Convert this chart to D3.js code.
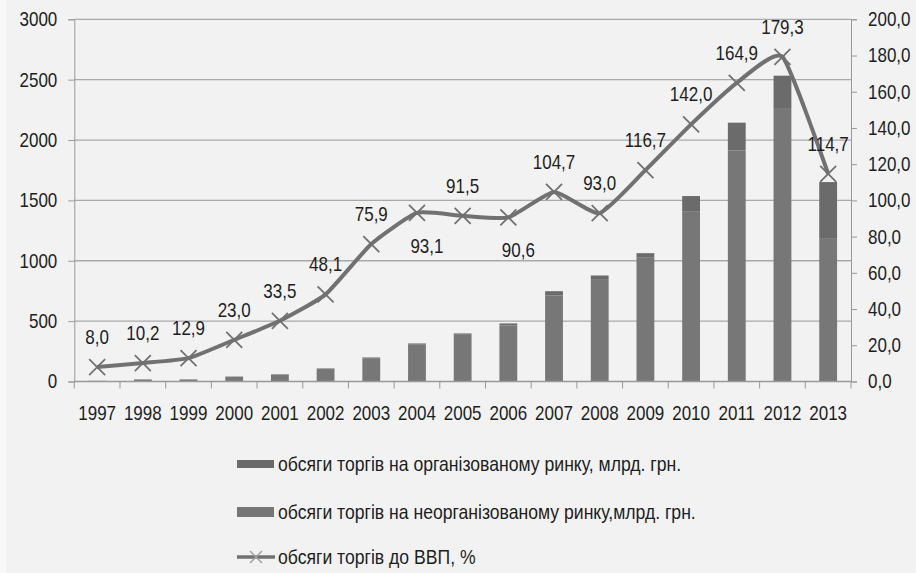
<!DOCTYPE html>
<html>
<head>
<meta charset="utf-8">
<script src="https://d3js.org/d3.v7.min.js"></script>
<style>
  html, body { margin: 0; padding: 0; background: #f2f2f2; }
  svg { display: block; }
  text { font-family: "Liberation Sans", Arial, sans-serif; fill: #1e1e1e; }
</style>
</head>
<body>
<svg id="chart" width="916" height="573"></svg>
<script>
const years = ['1997', '1998', '1999', '2000', '2001', '2002', '2003', '2004', '2005',
  '2006', '2007', '2008', '2009', '2010', '2011', '2012', '2013'];
// bar totals, split into organized (top) and unorganized (bottom)
const organized = [1, 2, 2, 3, 4, 5, 6, 6, 11, 17, 36, 36, 38, 125, 230, 268, 464];
const unorganized = [5, 16, 16, 38, 56, 103, 193, 309, 387, 464, 712, 842, 1025, 1411, 1914, 2265, 1188];
const gdpShare = [8.0, 10.2, 12.9, 23.0, 33.5, 48.1, 75.9, 93.1, 91.5, 90.6, 104.7, 93.0,
  116.7, 142.0, 164.9, 179.3, 114.7];
const leftTicks = [0, 500, 1000, 1500, 2000, 2500, 3000];
const rightTicks = [0, 20, 40, 60, 80, 100, 120, 140, 160, 180, 200];
const legendLabels = [
  'обсяги торгів на організованому ринку, млрд. грн.',
  'обсяги торгів на неорганізованому ринку,млрд. грн.',
  'обсяги торгів до ВВП, %'
];

const colors = { org: '#6b6b6b', unorg: '#777777', line: '#717171', grid: '#a9a9a9', axis: '#999999' };
const belowLabels = new Set([7, 9]);
const fmt = v => v.toFixed(1).replace('.', ',');
const FONT = 20;

// the original face is a narrow one, so squeeze regular glyphs about their anchor
function squeeze(sel, k = 0.85) {
  sel.each(function () {
    const ax = +(this.getAttribute('x') || 0);
    d3.select(this).attr('transform', `matrix(${k},0,0,1,${ax * (1 - k)},0)`);
  });
}

const svg = d3.select('#chart');
svg.append('rect').attr('width', 916).attr('height', 573).attr('fill', '#f2f2f2');
svg.append('rect').attr('width', 6).attr('height', 573).attr('fill', '#f7f7f7');

const plot = { left: 74.3, right: 851, top: 19.3, bottom: 381.5 };

const x = d3.scaleBand()
  .domain(years)
  .range([plot.left, plot.right])
  .paddingInner(0.61)
  .paddingOuter(0.305);
const yL = d3.scaleLinear().domain([0, 3000]).range([plot.bottom, plot.top]);
const yR = d3.scaleLinear().domain([0, 200]).range([plot.bottom, plot.top]);
const step = x.step();

// gridlines
svg.append('g')
  .selectAll('line')
  .data(leftTicks.slice(1))
  .join('line')
  .attr('x1', plot.left).attr('x2', plot.right)
  .attr('y1', d => yL(d)).attr('y2', d => yL(d))
  .attr('stroke', colors.grid).attr('stroke-width', 1.3);

// left axis
const leftAxis = svg.append('g')
  .attr('transform', `translate(${plot.left},0)`)
  .call(d3.axisLeft(yL).tickValues(leftTicks).tickSize(6).tickPadding(11).tickFormat(d3.format('d')));
leftAxis.select('.domain').attr('stroke', colors.axis);
leftAxis.selectAll('.tick line').attr('stroke', colors.axis);
leftAxis.selectAll('text').attr('font-size', FONT).attr('fill', '#1e1e1e').call(squeeze);

// right axis
const rightAxis = svg.append('g')
  .attr('transform', `translate(${plot.right},0)`)
  .call(d3.axisRight(yR).tickValues(rightTicks).tickSize(6).tickPadding(11).tickFormat(fmt));
rightAxis.select('.domain').attr('stroke', colors.axis);
rightAxis.selectAll('.tick line').attr('stroke', colors.axis);
rightAxis.selectAll('text').attr('font-size', FONT).attr('fill', '#1e1e1e').call(squeeze);

// stacked bars
const stackData = years.map((yr, i) => ({ year: yr, unorg: unorganized[i], org: organized[i] }));
const stacked = d3.stack().keys(['unorg', 'org'])(stackData);
svg.append('g')
  .selectAll('g')
  .data(stacked)
  .join('g')
  .attr('fill', d => colors[d.key])
  .selectAll('rect')
  .data(d => d)
  .join('rect')
  .attr('x', d => x(d.data.year))
  .attr('width', x.bandwidth())
  .attr('y', d => yL(d[1]))
  .attr('height', d => yL(d[0]) - yL(d[1]));

// x axis with ticks between categories
svg.append('line')
  .attr('x1', plot.left).attr('x2', plot.right)
  .attr('y1', plot.bottom).attr('y2', plot.bottom)
  .attr('stroke', colors.axis).attr('stroke-width', 1.3);
svg.append('g')
  .selectAll('line')
  .data(d3.range(years.length + 1))
  .join('line')
  .attr('x1', i => plot.left + i * step).attr('x2', i => plot.left + i * step)
  .attr('y1', plot.bottom).attr('y2', plot.bottom + 7)
  .attr('stroke', colors.axis);
svg.append('g')
  .selectAll('text')
  .data(years)
  .join('text')
  .attr('x', d => x(d) + x.bandwidth() / 2)
  .attr('y', 420)
  .attr('text-anchor', 'middle')
  .attr('font-size', FONT)
  .text(d => d)
  .call(squeeze);

// smoothed share line
const cx = i => x(years[i]) + x.bandwidth() / 2;
const line = d3.line()
  .x((d, i) => cx(i))
  .y(d => yR(d))
  .curve(d3.curveCardinal.tension(0.5));
svg.append('path')
  .datum(gdpShare)
  .attr('d', line)
  .attr('fill', 'none')
  .attr('stroke', colors.line)
  .attr('stroke-width', 4)
  .attr('stroke-linejoin', 'round');

const crossPath = r => `M${-r},${-r}L${r},${r}M${-r},${r}L${r},${-r}`;
svg.append('g')
  .selectAll('path')
  .data(gdpShare)
  .join('path')
  .attr('transform', (d, i) => `translate(${cx(i)},${yR(d)})`)
  .attr('d', crossPath(8))
  .attr('stroke', colors.line)
  .attr('stroke-width', 1.8)
  .attr('fill', 'none');

// data labels
svg.append('g')
  .selectAll('text')
  .data(gdpShare)
  .join('text')
  .attr('x', (d, i) => cx(i) + (belowLabels.has(i) ? 10 : 0))
  .attr('y', (d, i) => yR(d) + (belowLabels.has(i) ? 33 : -30))
  .attr('dy', '0.35em')
  .attr('text-anchor', 'middle')
  .attr('font-size', FONT)
  .text(d => fmt(d))
  .call(squeeze);

// legend
const legend = svg.append('g').attr('transform', 'translate(237,0)');
const rows = [464, 512, 557];
legend.append('rect').attr('x', 0).attr('y', rows[0] - 4).attr('width', 37).attr('height', 8).attr('fill', colors.org);
legend.append('rect').attr('x', 0).attr('y', rows[1] - 5).attr('width', 37).attr('height', 10).attr('fill', colors.unorg);
legend.append('line')
  .attr('x1', 0).attr('x2', 38).attr('y1', rows[2]).attr('y2', rows[2])
  .attr('stroke', colors.line).attr('stroke-width', 3.5);
legend.append('path')
  .attr('transform', `translate(19,${rows[2]})`)
  .attr('d', crossPath(6))
  .attr('stroke', '#a0a0a0').attr('stroke-width', 1.5);
legend.selectAll('text.lbl')
  .data(legendLabels)
  .join('text')
  .attr('class', 'lbl')
  .attr('x', 41)
  .attr('y', (d, i) => rows[i])
  .attr('dy', '0.35em')
  .attr('font-size', FONT)
  .text(d => d)
  .call(squeeze, 0.88);
</script>
</body>
</html>
